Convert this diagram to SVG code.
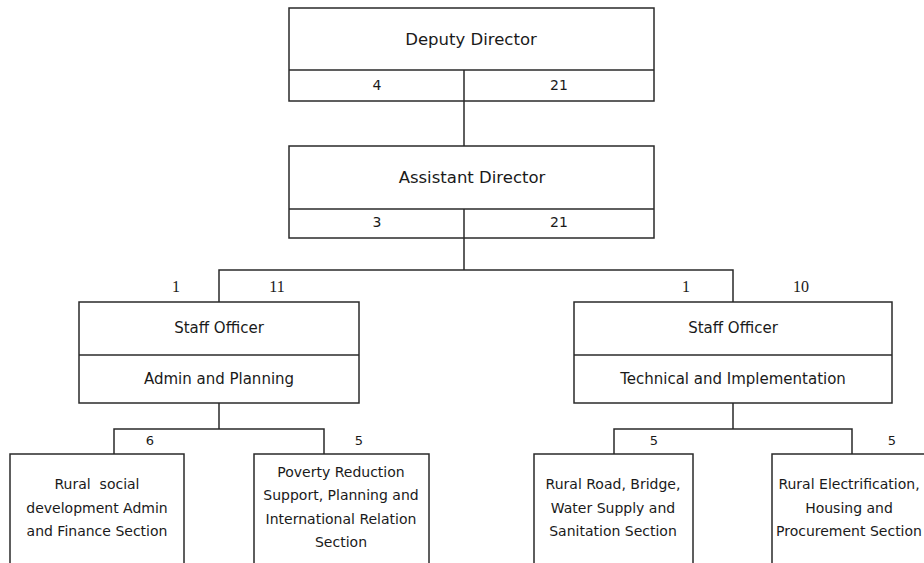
<svg xmlns="http://www.w3.org/2000/svg" width="924" height="563" viewBox="0 0 924 563">
  <style>
    .box { fill: #ffffff; stroke: #2a2a2a; stroke-width: 1.5; }
    .div { stroke: #2a2a2a; stroke-width: 1.5; fill: none; }
    .link { stroke: #2a2a2a; stroke-width: 1.5; fill: none; }
    .t { font-family: "DejaVu Sans", "Liberation Sans", sans-serif; fill: #1a1a1a; text-anchor: middle; }
    .title { font-size: 16.5px; }
    .sub { font-size: 15px; }
    .sec { font-size: 14px; }
    .num { font-family: "DejaVu Sans", "Liberation Sans", sans-serif; font-size: 14px; fill: #1a1a1a; text-anchor: middle; }
    .lnum { font-family: "DejaVu Sans", "Liberation Sans", sans-serif; font-size: 13px; fill: #1a1a1a; text-anchor: middle; }
    .snum { font-family: "Liberation Serif", "DejaVu Serif", serif; font-size: 16px; fill: #1a1a1a; text-anchor: middle; }
  </style>
  <rect width="924" height="563" fill="#ffffff"/>

  <!-- connectors -->
  <g id="connectors">
    <line class="link" x1="464" y1="101" x2="464" y2="146"/>
    <path class="link" d="M464 238 V270 M219 302 V270 H733 V302"/>
    <path class="link" d="M219 403 V429 M114 454 V429 H324 V454"/>
    <path class="link" d="M733 403 V429 M614 454 V429 H852 V454"/>
    <text class="snum" x="176" y="292">1</text>
    <text class="snum" x="277" y="292">11</text>
    <text class="snum" x="686" y="292">1</text>
    <text class="snum" x="801" y="292">10</text>
    <text class="lnum" x="150" y="445">6</text>
    <text class="lnum" x="359" y="445">5</text>
    <text class="lnum" x="654" y="445">5</text>
    <text class="lnum" x="892" y="445">5</text>
  </g>

  <!-- Deputy Director -->
  <g id="deputy-director">
    <rect class="box" x="289" y="8" width="365" height="93"/>
    <line class="div" x1="289" y1="70" x2="654" y2="70"/>
    <line class="div" x1="464" y1="70" x2="464" y2="101"/>
    <text class="t title" x="471" y="45">Deputy Director</text>
    <text class="num" x="377" y="90">4</text>
    <text class="num" x="559" y="90">21</text>
  </g>

  <!-- Assistant Director -->
  <g id="assistant-director">
    <rect class="box" x="289" y="146" width="365" height="92"/>
    <line class="div" x1="289" y1="209" x2="654" y2="209"/>
    <line class="div" x1="464" y1="209" x2="464" y2="238"/>
    <text class="t title" x="472" y="183">Assistant Director</text>
    <text class="num" x="377" y="227">3</text>
    <text class="num" x="559" y="227">21</text>
  </g>

  <!-- Staff Officer: Admin and Planning -->
  <g id="staff-admin">
    <rect class="box" x="79" y="302" width="280" height="101"/>
    <line class="div" x1="79" y1="355" x2="359" y2="355"/>
    <text class="t sub" x="219" y="333">Staff Officer</text>
    <text class="t sub" x="219" y="384">Admin and Planning</text>
  </g>

  <!-- Staff Officer: Technical and Implementation -->
  <g id="staff-technical">
    <rect class="box" x="574" y="302" width="318" height="101"/>
    <line class="div" x1="574" y1="355" x2="892" y2="355"/>
    <text class="t sub" x="733" y="333">Staff Officer</text>
    <text class="t sub" x="733" y="384">Technical and Implementation</text>
  </g>

  <!-- Sections -->
  <g id="section-admin-finance">
    <rect class="box" x="10" y="454" width="174" height="130"/>
    <text class="t sec" x="97" y="489" style="white-space:pre">Rural  social</text>
    <text class="t sec" x="97" y="513">development Admin</text>
    <text class="t sec" x="97" y="536">and Finance Section</text>
  </g>

  <g id="section-poverty">
    <rect class="box" x="254" y="454" width="175" height="130"/>
    <text class="t sec" x="341" y="477">Poverty Reduction</text>
    <text class="t sec" x="341" y="500">Support, Planning and</text>
    <text class="t sec" x="341" y="524">International Relation</text>
    <text class="t sec" x="341" y="547">Section</text>
  </g>

  <g id="section-road">
    <rect class="box" x="534" y="454" width="159" height="130"/>
    <text class="t sec" x="613" y="489">Rural Road, Bridge,</text>
    <text class="t sec" x="613" y="513">Water Supply and</text>
    <text class="t sec" x="613" y="536">Sanitation Section</text>
  </g>

  <g id="section-electrification">
    <rect class="box" x="772" y="454" width="160" height="130"/>
    <text class="t sec" x="849" y="489">Rural Electrification,</text>
    <text class="t sec" x="849" y="513">Housing and</text>
    <text class="t sec" x="849" y="536">Procurement Section</text>
  </g>
</svg>
